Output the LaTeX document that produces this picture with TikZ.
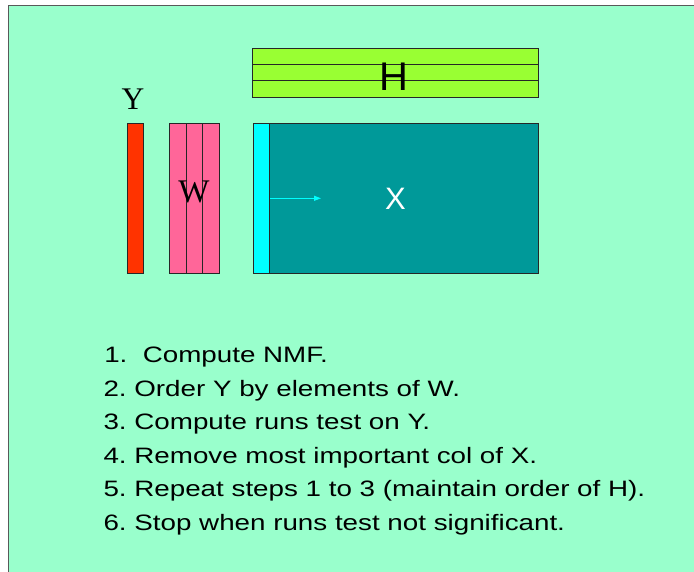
\documentclass[tikz,border=0pt]{standalone}
\usepackage{fontspec}
\setmainfont{Liberation Sans}
\newfontfamily\timesface{Liberation Serif}
\usetikzlibrary{arrows.meta}

\definecolor{mint}{RGB}{153,255,204}   % slide background
\definecolor{ycol}{RGB}{255,51,0}      % Y vector
\definecolor{wcol}{RGB}{255,102,153}   % W factor
\definecolor{hcol}{RGB}{153,255,51}    % H factor
\definecolor{xcol}{RGB}{0,153,153}     % X data matrix
\definecolor{colcyan}{RGB}{0,255,255}  % removed column

\begin{document}
\frenchspacing
\begin{tikzpicture}[
	x=1pt, y=-1pt,
	block/.style={draw=black!85, line width=0.8pt, inner sep=0pt, anchor=north west},
	steptext/.style={font=\fontsize{22.3}{26}\selectfont, anchor=base west, inner sep=0pt, xscale=1.245, transform shape}
	]
	\useasboundingbox (0,0) rectangle (694,572);
	\clip (0,0) rectangle (694,572);

	% Background frame
	\fill[white] (0,0) rectangle (694,572);
	\filldraw[fill=mint, draw=black!65, line width=0.8pt] (8,5) rectangle (720,600);

	% H factor (three rows)
	\node[block, fill=hcol, minimum width=286pt, minimum height=16pt] (h1) at (252,48) {};
	\node[block, fill=hcol, minimum width=286pt, minimum height=16.5pt] (h2) at (252,64) {};
	\node[block, fill=hcol, minimum width=286pt, minimum height=16.5pt] (h3) at (252,80.5) {};
	\node[font=\fontsize{40}{40}\selectfont, inner sep=0pt] (hlab) at (394,77) {H};

	% Y vector
	\node[font=\timesface\fontsize{31.5}{32}\selectfont, inner sep=0pt, anchor=base] (ylab) at (133,110) {Y};
	\node[block, fill=ycol, minimum width=16.6pt, minimum height=150.6pt] (ybar) at (126.7,122.7) {};

	% W factor (three columns)
	\node[block, fill=wcol, minimum width=16.8pt, minimum height=150.6pt] (w1) at (168.7,122.7) {};
	\node[block, fill=wcol, minimum width=16.6pt, minimum height=150.6pt] (w2) at (185.5,122.7) {};
	\node[block, fill=wcol, minimum width=16.7pt, minimum height=150.6pt] (w3) at (202.1,122.7) {};
	\node[font=\timesface\fontsize{33}{33}\selectfont, inner sep=0pt] (wlab) at (194,192) {W};

	% X matrix with highlighted column
	\node[block, fill=xcol, minimum width=285.3pt, minimum height=150.6pt] (xmat) at (252.7,122.7) {};
	\node[block, fill=colcyan, minimum width=16.6pt, minimum height=150.6pt] (xcolumn) at (252.7,122.7) {};
	\node[font=\fontsize{31}{31}\selectfont, color=white, inner sep=0pt] (xlab) at (395.5,198.7) {X};
	\coordinate (arrowend) at (321,198.3);
	\draw[-{Triangle[length=7pt,width=5pt]}, colcyan, line width=1pt] (xcolumn.east |- arrowend) -- (arrowend);

	% Steps
	\node[steptext] (step1) at (104,362.7) {1.\ \ Compute NMF.};
	\node[steptext] (step2) at (103.3,396.2) {2. Order Y by elements of W.};
	\node[steptext] (step3) at (103.3,429.7) {3. Compute runs test on Y.};
	\node[steptext] (step4) at (103.3,463.2) {4. Remove most important col of X.};
	\node[steptext] (step5) at (103.3,496.7) {5. Repeat steps 1 to 3 (maintain order of H).};
	\node[steptext] (step6) at (103.3,530.2) {6. Stop when runs test not significant.};
\end{tikzpicture}
\end{document}
